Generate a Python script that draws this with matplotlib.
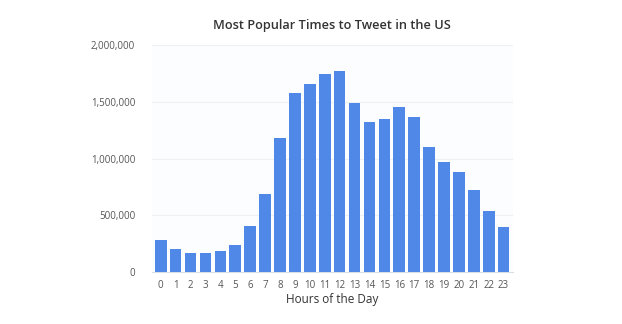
import matplotlib
matplotlib.use("Agg")
import matplotlib.pyplot as plt
from matplotlib.ticker import FuncFormatter

plt.rcParams['font.family'] = ['Open Sans', 'DejaVu Sans']

hours = list(range(24))
tweets = [282000, 205000, 168000, 172000, 184000, 243000, 410000, 690000,
          1178000, 1578000, 1660000, 1745000, 1768000, 1490000, 1320000, 1350000,
          1452000, 1370000, 1100000, 968000, 880000, 720000, 540000, 398000]

title = "Most Popular Times to Tweet in the US"
xlabel = "Hours of the Day"
yticks = [0, 500000, 1000000, 1500000, 2000000]

fig = plt.figure(figsize=(6.22, 3.24), dpi=100)
ax = fig.add_axes([0.244, 0.160, 0.581, 0.701])
ax.set_facecolor('#fcfdfe')

ax.bar(hours, tweets, width=0.78, color='#4f88e6', zorder=3)

ax.set_xlim(-0.6, 23.64)
ax.set_ylim(0, 2000000)
ax.set_xticks(hours)
ax.set_yticks(yticks)
ax.yaxis.set_major_formatter(FuncFormatter(lambda v, p: f"{int(v):,}"))
ax.grid(axis='y', color='#eef0f3', linewidth=0.8, zorder=0)

for s in ['top', 'right', 'left']:
    ax.spines[s].set_visible(False)
ax.spines['bottom'].set_color('#d8dde6')
ax.tick_params(axis='both', length=0, labelsize=7, labelcolor='#555555')
ax.tick_params(axis='y', pad=12)
ax.tick_params(axis='x', pad=6)

ax.set_xlabel(xlabel, fontsize=8.5, color='#333333', labelpad=1)
fig.text(0.534, 0.921, title, ha='center', va='center', fontsize=9.2,
         color='#333333', fontweight='semibold')

fig.savefig("out.png", dpi=100)
